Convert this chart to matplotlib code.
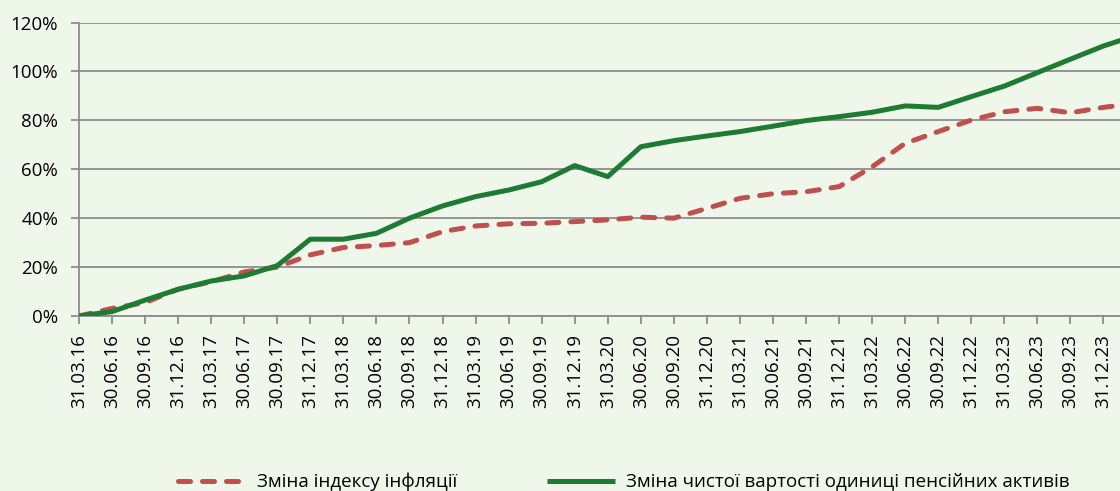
import matplotlib.pyplot as plt
from matplotlib.ticker import PercentFormatter

plt.rcParams['font.family'] = ['Open Sans', 'DejaVu Sans']

# quarter-end dates (the last point, 31.03.24, falls outside the cropped frame)
dates = ['31.03.16', '30.06.16', '30.09.16', '31.12.16', '31.03.17', '30.06.17',
         '30.09.17', '31.12.17', '31.03.18', '30.06.18', '30.09.18', '31.12.18',
         '31.03.19', '30.06.19', '30.09.19', '31.12.19', '31.03.20', '30.06.20',
         '30.09.20', '31.12.20', '31.03.21', '30.06.21', '30.09.21', '31.12.21',
         '31.03.22', '30.06.22', '30.09.22', '31.12.22', '31.03.23', '30.06.23',
         '30.09.23', '31.12.23', '31.03.24']

# change of inflation index, %
inflation = [0.0, 3.1, 5.5, 11.0, 14.0, 18.0, 20.0, 25.0, 28.0, 28.8, 30.0, 34.5,
             36.8, 37.7, 37.9, 38.6, 39.3, 40.4, 40.0, 44.0, 48.1, 50.0, 50.8, 52.9,
             61.0, 70.6, 75.4, 80.1, 83.5, 84.9, 83.1, 85.3, 87.0]

# change of net asset value per unit of pension assets, %
nav_unit = [0.0, 1.8, 6.5, 10.9, 14.3, 16.4, 20.6, 31.4, 31.4, 33.8, 40.0, 45.0,
            48.8, 51.5, 54.9, 61.5, 57.0, 69.2, 71.7, 73.6, 75.4, 77.6, 79.9, 81.5,
            83.3, 85.9, 85.3, 89.7, 94.0, 99.5, 105.0, 110.4, 114.8]

bg = '#EFF6EA'
grid_col = '#8C8C8C'
red = '#C0504D'
green = '#1E7B34'

fig = plt.figure(figsize=(11.2, 4.91), dpi=100, facecolor=bg)
ax = fig.add_axes([79 / 1120, 175 / 491, 1 - 79 / 1120, (316 - 22.5) / 491])
ax.set_facecolor(bg)

x = list(range(len(dates)))
ax.plot(x, inflation, color=red, lw=3.6, dashes=(2.4, 2.4),
        dash_capstyle='round', label='Зміна індексу інфляції', zorder=3)
ax.plot(x, nav_unit, color=green, lw=3.6, solid_capstyle='butt',
        label='Зміна чистої вартості одиниці пенсійних активів', zorder=4)

ax.set_xlim(0, 31.5)
ax.set_ylim(0, 120)
ax.set_yticks(range(0, 121, 20))
ax.yaxis.set_major_formatter(PercentFormatter(decimals=0))
ax.set_xticks(x[:-1])
ax.set_xticklabels(dates[:-1], rotation=90)

ax.grid(axis='y', color=grid_col, lw=1.3)
ax.set_axisbelow(True)
for s in ['top', 'right']:
    ax.spines[s].set_visible(False)
for s in ['left', 'bottom']:
    ax.spines[s].set_color(grid_col)
    ax.spines[s].set_linewidth(1.3)
ax.tick_params(axis='both', colors=grid_col, width=1.3, length=6, labelsize=13.5,
               labelcolor='black', direction='out')
ax.tick_params(axis='x', pad=7)
ax.tick_params(axis='y', pad=9)

fig.legend(loc='center', bbox_to_anchor=(0.557, 0.018), ncol=2, frameon=False,
           fontsize=13.5, handlelength=3.6, columnspacing=4.8, handletextpad=0.6)

fig.savefig('out.png', dpi=100, facecolor=bg)
